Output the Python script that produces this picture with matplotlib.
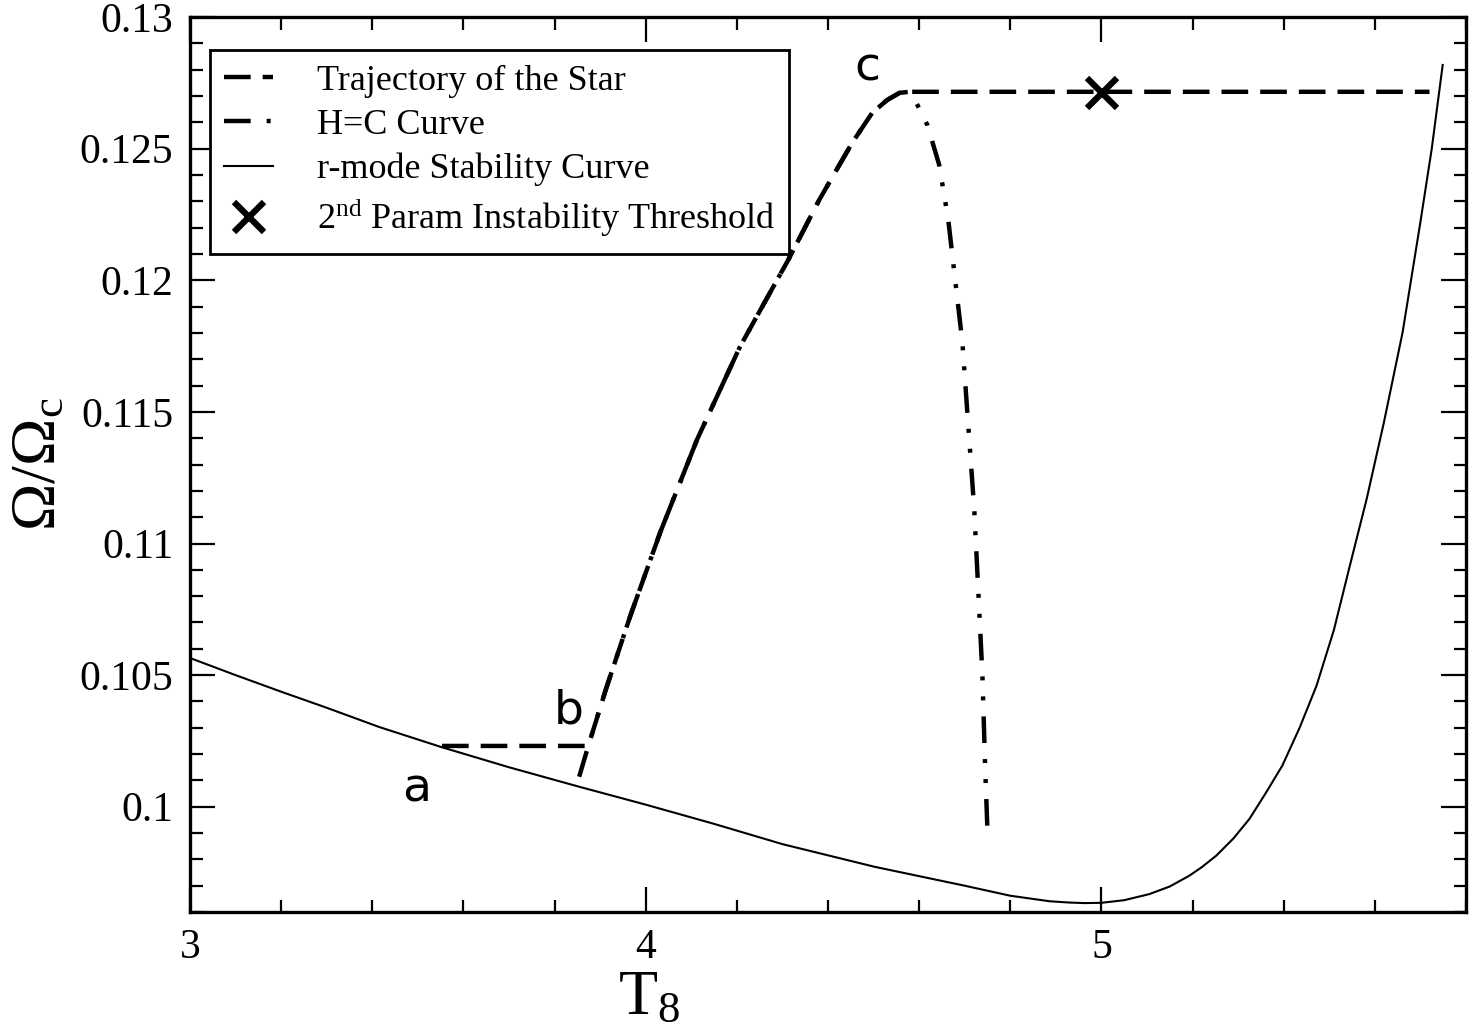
import matplotlib
matplotlib.use("Agg")
import matplotlib.pyplot as plt
from matplotlib.ticker import MultipleLocator

# ---------------- data ----------------
stab_x = [3.0, 3.1, 3.2, 3.3, 3.415, 3.551, 3.7, 3.854, 4.0, 4.15, 4.3, 4.502, 4.7,
          4.8, 4.886, 4.93, 4.963, 5.0, 5.05, 5.105, 5.15, 5.193, 5.22, 5.252, 5.29,
          5.325, 5.36, 5.397, 5.435, 5.472, 5.51, 5.545, 5.582, 5.62, 5.661, 5.70,
          5.725, 5.749]
stab_y = [0.10565, 0.10500, 0.10437, 0.10376, 0.10303, 0.10227, 0.10150, 0.10076,
          0.10008, 0.09935, 0.09858, 0.09772, 0.09700, 0.09662, 0.09641, 0.09636,
          0.09634, 0.09635, 0.09645, 0.09668, 0.09697, 0.09738, 0.09770, 0.09814,
          0.09880, 0.09954, 0.10050, 0.10156, 0.10300, 0.10459, 0.10670, 0.10914,
          0.11168, 0.11460, 0.11802, 0.12220, 0.12500, 0.12818]

hc_x = [3.854, 3.874, 3.913, 3.966, 4.032, 4.113, 4.207, 4.313, 4.381, 4.453, 4.497,
        4.530, 4.557, 4.578, 4.594, 4.618, 4.644, 4.664, 4.679, 4.695, 4.708, 4.721,
        4.730, 4.739, 4.745, 4.750]
hc_y = [0.10114, 0.10231, 0.10448, 0.10724, 0.11043, 0.11396, 0.11748, 0.12078,
        0.12306, 0.12522, 0.12636, 0.12685, 0.12712, 0.12716, 0.12674, 0.12590,
        0.12439, 0.12230, 0.12003, 0.11764, 0.11445, 0.11130, 0.10815, 0.10497,
        0.10144, 0.09909]

traj_x = [3.553, 3.874, 3.913, 3.966, 4.032, 4.113, 4.207, 4.313, 4.381, 4.453,
          4.497, 4.530, 4.557, 4.578, 5.72]
traj_y = [0.10231, 0.10231, 0.10448, 0.10724, 0.11043, 0.11396, 0.11748, 0.12078,
          0.12306, 0.12522, 0.12636, 0.12685, 0.12712, 0.12716, 0.12716]

thresh_x = [5.002]
thresh_y = [0.12712]

point_labels = ["a", "b", "c"]
point_x = [3.498, 3.832, 4.486]
point_y = [0.10068, 0.10364, 0.12807]

legend_labels = ["Trajectory of the Star", "H=C Curve", "r-mode Stability Curve",
                 r"2$^{\mathrm{nd}}$ Param Instability Threshold"]

# ---------------- style ----------------
plt.rcParams['font.family'] = ['Liberation Serif', 'DejaVu Serif']
plt.rcParams['mathtext.fontset'] = 'custom'
plt.rcParams['mathtext.rm'] = 'Liberation Serif'
plt.rcParams['mathtext.it'] = 'Liberation Serif:italic'
plt.rcParams['mathtext.bf'] = 'Liberation Serif:bold'

fig = plt.figure(figsize=(14.73, 10.33), dpi=100)
ax = fig.add_axes([0.1290, 0.1171, 0.8662, 0.8664])

l_traj, = ax.plot(traj_x, traj_y, color='black', lw=3.2, dashes=(6, 2.7),
                  label=legend_labels[0])
l_hc, = ax.plot(hc_x, hc_y, color='black', lw=3.2,
                dashes=(6, 3.6, 0.9, 3.6, 0.9, 3.6), label=legend_labels[1])
l_stab, = ax.plot(stab_x, stab_y, color='black', lw=1.5, label=legend_labels[2])
l_x, = ax.plot(thresh_x, thresh_y, linestyle='none', marker='x', color='black',
               markersize=21, markeredgewidth=4.5, label=legend_labels[3])

for t, x, y in zip(point_labels, point_x, point_y):
    ax.text(x, y, t, fontsize=34, family=['DejaVu Sans'], ha='center', va='center')

ax.set_xlim(3.0, 5.8)
ax.set_ylim(0.096, 0.13)
ax.xaxis.set_major_locator(MultipleLocator(1))
ax.xaxis.set_minor_locator(MultipleLocator(0.2))
ax.yaxis.set_major_locator(MultipleLocator(0.005))
ax.yaxis.set_minor_locator(MultipleLocator(0.001))
ax.set_xticks([3, 4, 5])
ax.set_xticklabels(["3", "4", "5"])
ax.set_yticks([0.1, 0.105, 0.11, 0.115, 0.12, 0.125, 0.13])
ax.set_yticklabels(["0.1", "0.105", "0.11", "0.115", "0.12", "0.125", "0.13"])

ax.tick_params(which='both', direction='in', top=True, right=True, width=1.6,
               labelsize=30, colors='black')
ax.tick_params(which='major', length=18, pad=12)
ax.tick_params(which='minor', length=9)
for s in ax.spines.values():
    s.set_linewidth(2.4)

ax.set_xlabel(r"$\mathrm{T}_{8}$", fontsize=46, labelpad=4)
ax.xaxis.set_label_coords(0.36, -0.065)
ax.set_ylabel(r"$\Omega/\Omega_{\mathrm{c}}$", fontsize=46, labelpad=4)
ax.yaxis.set_label_coords(-0.0946, 0.5)

leg = ax.legend(handles=[l_traj, l_hc, l_stab, l_x], loc='upper left',
                bbox_to_anchor=(0.0157, 0.963), borderaxespad=0, fontsize=26,
                fancybox=False, framealpha=1, edgecolor='black',
                handlelength=1.35, handletextpad=1.2, labelspacing=0.3,
                borderpad=0.4)
leg.get_frame().set_linewidth(2)

fig.savefig("out.png", dpi=100, facecolor='white')
